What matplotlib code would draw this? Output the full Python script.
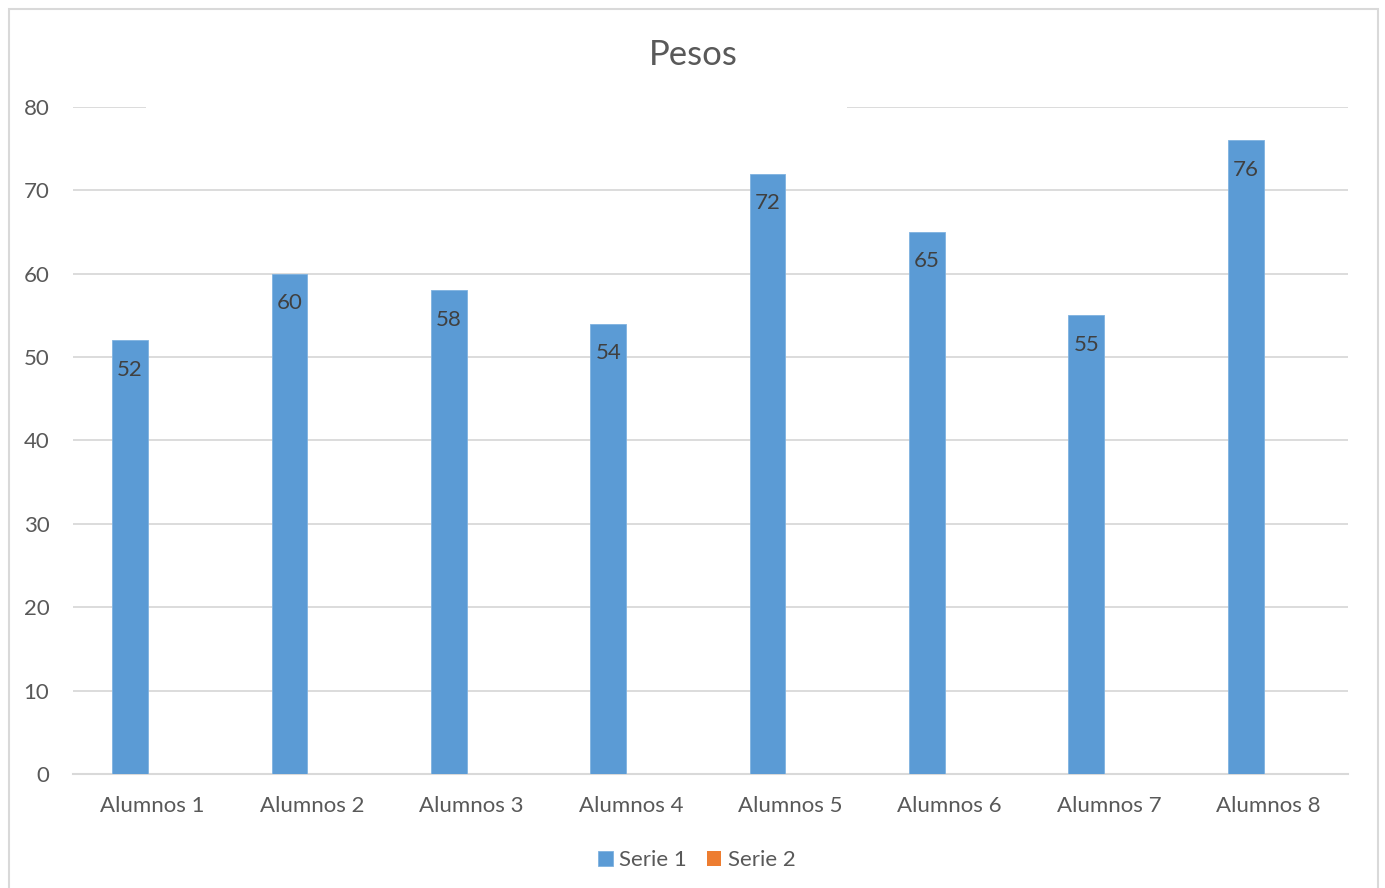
import numpy as np
import matplotlib
matplotlib.use('Agg')
import matplotlib.pyplot as plt
from matplotlib.patches import Rectangle

plt.rcParams['font.family'] = ['Lato', 'DejaVu Sans']

# 数据
categorias = ['Alumnos 1', 'Alumnos 2', 'Alumnos 3', 'Alumnos 4',
              'Alumnos 5', 'Alumnos 6', 'Alumnos 7', 'Alumnos 8']
serie1 = [52, 60, 58, 54, 72, 65, 55, 76]
serie2 = [np.nan] * 8  # Serie 2 sin valores
yticks = [0, 10, 20, 30, 40, 50, 60, 70, 80]

W, H = 1385, 888
fig = plt.figure(figsize=(W / 100, H / 100), dpi=100)
ax = fig.add_axes([73 / W, (H - 774) / H, (1348 - 73) / W, (774 - 107) / H])

azul = '#5B9BD5'
naranja = '#ED7D31'
gris_txt = '#595959'
gris_linea = '#D9D9D9'

x = np.arange(len(categorias))
ancho = 0.224
desp = 0.142

b1 = ax.bar(x - desp, serie1, ancho, color=azul, edgecolor='#7FB2E0', linewidth=0.6,
            label='Serie 1', zorder=3)
b2 = ax.bar(x + desp, serie2, ancho, color=naranja, label='Serie 2', zorder=3)

# etiquetas dentro de la barra
for rect, v in zip(b1, serie1):
    ax.annotate(str(v), (rect.get_x() + rect.get_width() / 2, v),
                xytext=(0, -21), textcoords='offset points',
                ha='center', va='center', fontsize=16, color='#404040', zorder=4)

ax.set_xlim(-0.5, len(categorias) - 0.5)
ax.set_ylim(0, 80)
ax.set_yticks(yticks)
ax.set_xticks(x)
ax.set_xticklabels(categorias)
ax.tick_params(axis='both', length=0, labelsize=16, labelcolor=gris_txt)
ax.tick_params(axis='y', pad=17)
ax.tick_params(axis='x', pad=16)

ax.grid(axis='y', color=gris_linea, linewidth=1.3, zorder=0)
ax.set_axisbelow(True)
for s in ['top', 'right', 'left']:
    ax.spines[s].set_visible(False)
ax.spines['bottom'].set_color(gris_linea)
ax.spines['bottom'].set_linewidth(1.5)
ax.spines['bottom'].set_zorder(2)

# el cuadro del titulo tapa parte de la linea de 80
fig.patches.append(Rectangle((146 / W, (H - 115) / H), (847 - 146) / W, 16 / H,
                             transform=fig.transFigure, facecolor='white',
                             edgecolor='none', zorder=5))

fig.text(693 / W, (H - 55) / H, 'Pesos', ha='center', va='center',
         fontsize=25, color=gris_txt)

leg = fig.legend(handles=[b1, b2], labels=['Serie 1', 'Serie 2'], loc='center',
                 bbox_to_anchor=(697 / W, (H - 860) / H), ncol=2, frameon=False,
                 fontsize=16, labelcolor=gris_txt, handlelength=0.65, handleheight=0.65,
                 handletextpad=0.3, columnspacing=0.9)

# borde del grafico
fig.patches.append(Rectangle((9 / W, -0.01), (1378 - 9) / W, (H - 9) / H + 0.01,
                             transform=fig.transFigure, facecolor='none',
                             edgecolor='#D9D9D9', linewidth=1.5, zorder=0))

fig.savefig('out.png', dpi=100)
